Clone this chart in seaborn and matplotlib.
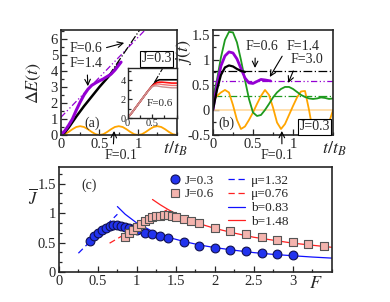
import matplotlib
matplotlib.use("Agg")
import matplotlib.pyplot as plt
import seaborn as sns
from matplotlib.lines import Line2D
from matplotlib.ticker import MultipleLocator, FuncFormatter

sns.set_style("ticks")
plt.rcParams['font.family'] = ['Liberation Serif', 'DejaVu Serif']
plt.rcParams['mathtext.fontset'] = 'stix'
plt.rcParams['axes.unicode_minus'] = False

# ---- panel (a): energy absorbed, J=0.3
t_a = [0, 0.05, 0.1, 0.15, 0.2, 0.25, 0.3, 0.35, 0.4, 0.45, 0.5, 0.55, 0.6, 0.65, 0.7, 0.75,
       0.8, 0.85, 0.9, 0.95, 1.0, 1.05, 1.1, 1.15, 1.2, 1.25, 1.3, 1.35, 1.4, 1.45, 1.5]
dE_f01 = [0, 0.05, 0.19, 0.36, 0.5, 0.55, 0.5, 0.36, 0.19, 0.05, 0, 0.05, 0.19, 0.36, 0.5, 0.55,
          0.5, 0.36, 0.19, 0.05, 0, 0.05, 0.19, 0.36, 0.5, 0.55, 0.5, 0.36, 0.19, 0.05, 0]
t_a06 = [0, 0.05, 0.1, 0.15, 0.2, 0.3, 0.4, 0.5, 0.6, 0.7, 0.76]
dE_f06 = [0, 0.15, 0.45, 0.8, 1.15, 1.8, 2.4, 3.0, 3.55, 4.1, 4.5]
t_a14 = [0, 0.05, 0.1, 0.15, 0.2, 0.25, 0.3, 0.35, 0.4, 0.45, 0.5, 0.55, 0.6, 0.65, 0.7, 0.78]
dE_f14 = [0, 0.25, 0.6, 1.0, 1.55, 2.05, 2.5, 2.85, 3.1, 3.25, 3.38, 3.5, 3.65, 3.8, 4.05, 4.55]
fit06_t, fit06_E = [0.62, 1.02], [3.7, 6.55]
fit14_t, fit14_E = [0, 1.09], [1.1, 6.55]

# inset (a): F=0.6, several J
t_in = [0, 0.1, 0.2, 0.3, 0.4, 0.5, 0.55, 0.6, 0.65, 0.7, 0.8, 0.9, 1.0]
in_black = [0, 0.65, 1.35, 2.05, 2.75, 3.4, 3.7, 3.95, 4.05, 4.05, 4.05, 4.05, 4.05]
in_red = [0, 0.65, 1.35, 2.05, 2.75, 3.4, 3.6, 3.75, 3.8, 3.8, 3.75, 3.7, 3.7]
in_salmon = [0, 0.65, 1.35, 2.05, 2.75, 3.35, 3.5, 3.6, 3.6, 3.55, 3.5, 3.45, 3.45]
in_pink = [0, 0.65, 1.35, 2.05, 2.75, 3.3, 3.4, 3.4, 3.35, 3.3, 3.25, 3.2, 3.2]
in_fit_t, in_fit_E = [0.55, 0.72], [3.8, 5.3]

# ---- panel (b): current j(t), J=0.3
t_b = t_a
j_f01 = [0.2, 0.28, 0.35, 0.4, 0.35, 0.1, -0.2, -0.38, -0.33, -0.2, -0.05, 0.12, 0.28, 0.4, 0.3,
         0.05, -0.25, -0.38, -0.28, -0.1, 0.08, 0.25, 0.37, 0.38, 0.0, -0.45, -0.7, -0.8, -0.55,
         -0.25, 0.0]
j_f30 = [0.25, 0.6, 1.05, 1.4, 1.56, 1.55, 1.35, 1.0, 0.6, 0.22, -0.05, -0.12, -0.1, 0.0, 0.12,
         0.25, 0.35, 0.42, 0.46, 0.46, 0.42, 0.36, 0.3, 0.26, 0.23, 0.22, 0.23, 0.25, 0.24, 0.22,
         0.23]
t_b14 = [0, 0.05, 0.1, 0.15, 0.2, 0.25, 0.3, 0.35, 0.4, 0.45, 0.5, 0.55, 0.6, 0.65, 0.72]
j_f14 = [0.0, 0.5, 0.88, 1.08, 1.16, 1.14, 1.02, 0.83, 0.64, 0.54, 0.53, 0.57, 0.61, 0.6, 0.58]
t_b06 = [0, 0.05, 0.1, 0.15, 0.2, 0.25, 0.3, 0.35, 0.4]
j_f06 = [0.0, 0.4, 0.7, 0.85, 0.89, 0.87, 0.82, 0.78, 0.76]
t_lim = [0, 1.5]
jbar_f06, jbar_f14, jbar_f30, jbar_f01 = 0.77, 0.57, 0.27, 0.0

# ---- panel (c): mean current vs F
F_j03 = [0.4, 0.45, 0.5, 0.55, 0.6, 0.65, 0.7, 0.75, 0.8, 0.85, 0.9, 0.95, 1.0, 1.1, 1.2, 1.3,
         1.4, 1.6, 1.8, 2.0, 2.2, 2.4, 2.6, 2.8, 3.0]
J_j03 = [0.53, 0.61, 0.67, 0.71, 0.75, 0.78, 0.79, 0.79, 0.78, 0.77, 0.75, 0.73, 0.71, 0.67,
         0.64, 0.61, 0.57, 0.51, 0.45, 0.41, 0.38, 0.355, 0.33, 0.31, 0.295]
F_j06 = [0.85, 0.9, 0.95, 1.0, 1.05, 1.1, 1.15, 1.2, 1.25, 1.3, 1.35, 1.4, 1.45, 1.5, 1.6, 1.7,
         1.8, 2.0, 2.2, 2.4, 2.6, 2.8, 3.0, 3.2, 3.4]
J_j06 = [0.60, 0.66, 0.71, 0.76, 0.82, 0.87, 0.90, 0.93, 0.945, 0.955, 0.965, 0.96, 0.955, 0.94,
         0.90, 0.86, 0.83, 0.75, 0.70, 0.645, 0.595, 0.55, 0.51, 0.475, 0.435]
mu1_F, mu1_J = [0.25, 0.75], [0.32, 0.98]
mu2_F, mu2_J = [0.65, 1.42], [0.49, 1.08]
b1_F = [0.75, 0.85, 1.0, 1.2, 1.4, 1.6, 1.8, 2.0, 2.25, 2.5, 2.75, 3.0, 3.25, 3.5]
b1_J = [1.11, 0.98, 0.83, 0.69, 0.59, 0.52, 0.46, 0.415, 0.37, 0.33, 0.30, 0.277, 0.255, 0.237]
b2_F = [1.2, 1.3, 1.4, 1.5, 1.6, 1.8, 2.0, 2.25, 2.5, 2.75, 3.0, 3.25, 3.5]
b2_J = [1.23, 1.14, 1.06, 0.99, 0.925, 0.82, 0.74, 0.66, 0.59, 0.54, 0.49, 0.455, 0.42]

ORANGE = '#ffa500'
PURPLE = '#9400d3'
GREEN = '#1e9a1e'
DDOT = (0, (5, 2, 1, 2, 1, 2))


def line(ax, x, y, **kw):
    sns.lineplot(x=x, y=y, ax=ax, sort=False, estimator=None, **kw)


def style(ax, lw=1.2, size=10.5):
    for s in ax.spines.values():
        s.set_linewidth(lw)
    ax.tick_params(which='both', direction='in', labelsize=size, width=0.9, pad=2)
    ax.tick_params(which='major', length=4)
    ax.tick_params(which='minor', length=2)
    fmt = FuncFormatter(lambda v, p: '%g' % v)
    ax.xaxis.set_major_formatter(fmt)
    ax.yaxis.set_major_formatter(fmt)


fig = plt.figure(figsize=(3.9, 3.02), dpi=100)
ax_a = fig.add_axes([0.156, 0.553, 0.297, 0.348])
ax_b = fig.add_axes([0.546, 0.553, 0.308, 0.348])
ax_c = fig.add_axes([0.151, 0.099, 0.700, 0.348])
ax_in = fig.add_axes([0.327, 0.609, 0.126, 0.166])

arrow = dict(arrowstyle='->', color='black', lw=0.8, shrinkA=1, shrinkB=0)

# (a)
line(ax_a, t_a, dE_f01, color=ORANGE, lw=1.3)
line(ax_a, fit14_t, fit14_E, color=PURPLE, lw=0.9, linestyle=DDOT)
line(ax_a, fit06_t, fit06_E, color='black', lw=0.9, linestyle='-.')
line(ax_a, t_a06, dE_f06, color='black', lw=1.8)
line(ax_a, t_a14, dE_f14, color=PURPLE, lw=2.2)
ax_a.set_xlim(0, 1.5)
ax_a.set_ylim(0, 6.56)
ax_a.set_xticks([0, 0.5, 1])
ax_a.xaxis.set_minor_locator(MultipleLocator(0.25))
ax_a.yaxis.set_major_locator(MultipleLocator(1))
ax_a.yaxis.set_minor_locator(MultipleLocator(0.5))
style(ax_a)
ax_a.set_ylabel(r'$\Delta E(t)$', fontsize=13, labelpad=2)
ax_a.yaxis.set_label_coords(-0.15, 0.5)
ax_a.text(0.88, -0.13, r'$t/t_B$', transform=ax_a.transAxes, fontsize=13, ha='left', va='center')
ax_a.text(0.40, 0.75, '(a)', fontsize=10, ha='center', va='center')
ax_a.annotate('F=0.6', xy=(0.82, 5.75), xytext=(0.32, 5.38), fontsize=10, ha='center',
              va='center', arrowprops=dict(arrow, relpos=(1, 0.5)))
ax_a.annotate('F=1.4', xy=(0.35, 3.05), xytext=(0.32, 4.44), fontsize=10, ha='center',
              va='center', arrowprops=dict(arrow, relpos=(0.55, 0)))
ax_a.annotate('F=0.1', xy=(0.69, 0.25), xytext=(0.78, -1.25), fontsize=10, ha='center',
              va='center', annotation_clip=False, arrowprops=dict(arrow, relpos=(0.26, 1)))
ax_a.text(1.24, 4.75, 'J=0.3', fontsize=10, ha='center', va='center', zorder=5,
          bbox=dict(boxstyle='square,pad=0.12', fc='white', ec='black', lw=0.8))

# inset
line(ax_in, in_fit_t, in_fit_E, color='black', lw=0.8, linestyle='-.')
line(ax_in, t_in, in_black, color='black', lw=1.2)
line(ax_in, t_in, in_red, color='#ff1010', lw=1.2)
line(ax_in, t_in, in_salmon, color='#f07070', lw=1.0)
line(ax_in, t_in, in_pink, color='#c89090', lw=1.0)
ax_in.set_xlim(0, 1.0)
ax_in.set_ylim(0, 5.3)
ax_in.set_xticks([0, 0.5])
ax_in.xaxis.set_minor_locator(MultipleLocator(0.25))
ax_in.set_yticks([0, 2, 4])
ax_in.yaxis.set_minor_locator(MultipleLocator(1))
style(ax_in, lw=1.0, size=7.5)
ax_in.tick_params(which='major', length=3, pad=1)
ax_in.text(0.66, 1.5, 'F=0.6', fontsize=8, ha='center', va='center')

# (b)
line(ax_b, t_lim, [jbar_f01, jbar_f01], color='#ffd9a0', lw=1.2)
line(ax_b, t_lim, [jbar_f06, jbar_f06], color='black', lw=0.9, linestyle=(0, (7, 2, 1, 2)))
line(ax_b, t_lim, [jbar_f14, jbar_f14], color=PURPLE, lw=0.9, linestyle=DDOT)
line(ax_b, t_lim, [jbar_f30, jbar_f30], color=GREEN, lw=0.9, linestyle=(0, (7, 2, 1, 2)))
line(ax_b, t_b, j_f01, color=ORANGE, lw=1.3)
line(ax_b, t_b, j_f30, color=GREEN, lw=1.3)
line(ax_b, t_b14, j_f14, color=PURPLE, lw=2.0)
line(ax_b, t_b06, j_f06, color='black', lw=1.6)
ax_b.set_xlim(0, 1.5)
ax_b.set_ylim(-0.5, 1.6)
ax_b.set_xticks([0, 0.5, 1])
ax_b.xaxis.set_minor_locator(MultipleLocator(0.25))
ax_b.set_yticks([-0.5, 0, 0.5, 1, 1.5])
ax_b.yaxis.set_minor_locator(MultipleLocator(0.25))
style(ax_b)
ax_b.set_ylabel(r'$j(t)$', fontsize=13)
ax_b.yaxis.set_label_coords(-0.16, 0.79)
ax_b.text(0.91, -0.13, r'$t/t_B$', transform=ax_b.transAxes, fontsize=13, ha='left', va='center')
ax_b.text(0.17, -0.26, '(b)', fontsize=10, ha='center', va='center')
ax_b.annotate('F=0.6', xy=(0.525, 0.84), xytext=(0.61, 1.26), fontsize=10, ha='center',
              va='center', arrowprops=dict(arrow, relpos=(0.3, 0)))
ax_b.annotate('F=1.4', xy=(0.71, 0.66), xytext=(1.12, 1.26), fontsize=10, ha='center',
              va='center', arrowprops=dict(arrow, relpos=(0, 0.3)))
ax_b.annotate('F=3.0', xy=(0.94, 0.54), xytext=(1.17, 1.0), fontsize=10, ha='center',
              va='center', arrowprops=dict(arrow, relpos=(0.15, 0)))
ax_b.annotate('F=0.1', xy=(0.86, -0.42), xytext=(0.80, -0.9), fontsize=10, ha='center',
              va='center', annotation_clip=False, arrowprops=dict(arrow, relpos=(0.65, 1)))
ax_b.text(1.27, -0.34, 'J=0.3', fontsize=10, ha='center', va='center', zorder=5,
          bbox=dict(boxstyle='square,pad=0.12', fc='white', ec='black', lw=0.8))

# (c)
line(ax_c, mu1_F, mu1_J, color='#1010ff', lw=0.9, linestyle=(0, (5, 3)))
line(ax_c, mu2_F, mu2_J, color='#ff2020', lw=0.9, linestyle=(0, (5, 3)))
line(ax_c, b1_F, b1_J, color='#1010ff', lw=0.9)
line(ax_c, b2_F, b2_J, color='#ff2020', lw=0.9)
sns.scatterplot(x=F_j03, y=J_j03, ax=ax_c, marker='o', s=40, color='#2233ee',
                edgecolor='#101050', linewidth=0.8, zorder=3)
sns.scatterplot(x=F_j06, y=J_j06, ax=ax_c, marker='s', s=34, color='#f4b4ae',
                edgecolor='#555555', linewidth=0.8, zorder=4)
ax_c.set_xlim(0, 3.5)
ax_c.set_ylim(0, 1.78)
ax_c.set_xticks([0, 0.5, 1, 1.5, 2, 2.5, 3])
ax_c.xaxis.set_minor_locator(MultipleLocator(0.25))
ax_c.set_yticks([0, 0.5, 1, 1.5])
ax_c.yaxis.set_minor_locator(MultipleLocator(0.5 / 3))
style(ax_c)
ax_c.text(0.94, -0.105, r'$F$', transform=ax_c.transAxes, fontsize=13, ha='center', va='center')
ax_c.text(-0.095, 0.70, r'$\overline{J}$', transform=ax_c.transAxes, fontsize=12,
          ha='center', va='center')
ax_c.text(0.385, 1.47, '(c)', fontsize=10, ha='center', va='center')

h1 = [Line2D([], [], ls='none', marker='o', ms=6.5, mfc='#2233ee', mec='#101050', mew=0.8),
      Line2D([], [], ls='none', marker='s', ms=6, mfc='#f4b4ae', mec='#555555', mew=0.8)]
leg1 = ax_c.legend(h1, ['J=0.3', 'J=0.6'], loc='upper left', bbox_to_anchor=(0.40, 0.93),
                   frameon=False, fontsize=9.5, handlelength=1.0, handletextpad=0.3,
                   labelspacing=0.12, borderpad=0, borderaxespad=0)
ax_c.add_artist(leg1)
h2 = [Line2D([], [], color='#1010ff', lw=0.9, ls=(0, (5, 3))),
      Line2D([], [], color='#ff2020', lw=0.9, ls=(0, (5, 3))),
      Line2D([], [], color='#1010ff', lw=0.9),
      Line2D([], [], color='#ff2020', lw=0.9)]
ax_c.legend(h2, ['\u03bc=1.32', '\u03bc=0.76', 'b=0.83', 'b=1.48'], loc='upper left',
            bbox_to_anchor=(0.62, 0.93), frameon=False, fontsize=9.5, handlelength=1.3,
            handletextpad=0.4, labelspacing=0.12, borderpad=0, borderaxespad=0)

fig.savefig('out.png', dpi=100)
